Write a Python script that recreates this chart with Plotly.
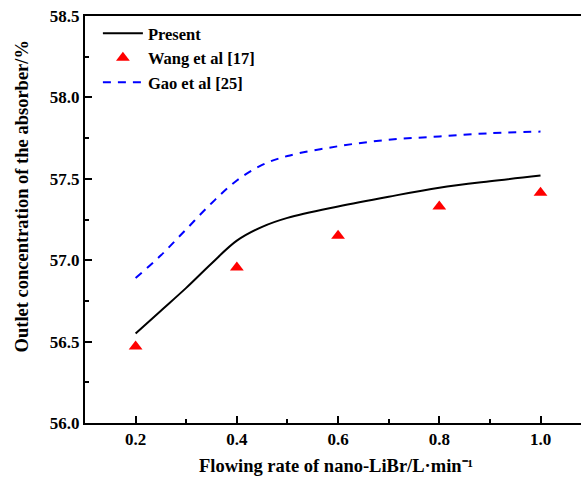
import plotly.graph_objects as go

# Data
present_x = [0.2, 0.25, 0.3, 0.35, 0.4, 0.45, 0.5, 0.6, 0.7, 0.8, 0.9, 1.0]
present_y = [56.55, 56.69, 56.83, 56.98, 57.12, 57.205, 57.26, 57.33, 57.39, 57.445, 57.485, 57.52]

wang_x = [0.2, 0.4, 0.6, 0.8, 1.0]
wang_y = [56.47, 56.955, 57.15, 57.33, 57.415]

gao_x = [0.2, 0.25, 0.3, 0.35, 0.4, 0.45, 0.5, 0.6, 0.7, 0.8, 0.9, 1.0]
gao_y = [56.89, 57.03, 57.19, 57.35, 57.49, 57.585, 57.64, 57.70, 57.74, 57.76, 57.78, 57.79]

x_ticks = [0.2, 0.4, 0.6, 0.8, 1.0]
y_ticks = [56.0, 56.5, 57.0, 57.5, 58.0, 58.5]

FONT = "Liberation Serif"

fig = go.Figure()
fig.add_trace(go.Scatter(x=present_x, y=present_y, mode="lines", name="Present",
                         line=dict(color="black", width=2, shape="spline", smoothing=1.0)))
fig.add_trace(go.Scatter(x=wang_x, y=wang_y, mode="markers", name="Wang et al [17]",
                         marker=dict(symbol="triangle-up", color="#ff0000", size=12,
                                     line=dict(width=0))))
fig.add_trace(go.Scatter(x=gao_x, y=gao_y, mode="lines", name="Gao et al [25]",
                         line=dict(color="#0000ff", width=2, dash="8px,7px", shape="spline", smoothing=1.0)))

fig.update_layout(
    width=581, height=484,
    margin=dict(l=85, r=0, t=16, b=61),
    plot_bgcolor="white", paper_bgcolor="white",
    font=dict(family=FONT, color="black", size=16),
    showlegend=True,
    legend=dict(x=0.026, y=1.0, xanchor="left", yanchor="top",
                bgcolor="rgba(0,0,0,0)", font=dict(family=FONT, size=16.5, color="black", weight="bold"),
                itemwidth=40, tracegroupgap=0),
    xaxis=dict(range=[0.1, 1.08], tickvals=x_ticks, ticktext=[f"{v:.1f}" for v in x_ticks],
               showgrid=False, zeroline=False, showline=True, linecolor="black", linewidth=2,
               mirror=True, ticks="inside", ticklen=7, tickwidth=2, tickcolor="black",
               minor=dict(dtick=0.1, tick0=0.1, ticks="inside", ticklen=4, tickwidth=2, tickcolor="black"),
               tickfont=dict(family=FONT, size=17, weight="bold")),
    yaxis=dict(range=[56.0, 58.5], tickvals=y_ticks, ticktext=[f"{v:.1f}" for v in y_ticks],
               showgrid=False, zeroline=False, showline=True, linecolor="black", linewidth=2,
               mirror=False, ticks="inside", ticklen=7, tickwidth=2, tickcolor="black",
               minor=dict(dtick=0.25, ticks="inside", ticklen=4, tickwidth=2, tickcolor="black"),
               tickfont=dict(family=FONT, size=17, weight="bold")),
    annotations=[
        dict(text="Flowing rate of nano-LiBr/L·min⁻¹", xref="paper", yref="paper",
             x=(336 - 85) / 496, y=-(466 - 423) / 406, xanchor="center", yanchor="middle",
             showarrow=False, font=dict(family=FONT, size=18.5, weight="bold", color="black")),
        dict(text="Outlet concentration of the absorber/%", xref="paper", yref="paper",
             x=-(85 - 22) / 496, y=(423 - 197) / 406, xanchor="center", yanchor="middle",
             textangle=-90, showarrow=False,
             font=dict(family=FONT, size=18.5, weight="bold", color="black")),
    ],
)

fig.write_html("out.html")
